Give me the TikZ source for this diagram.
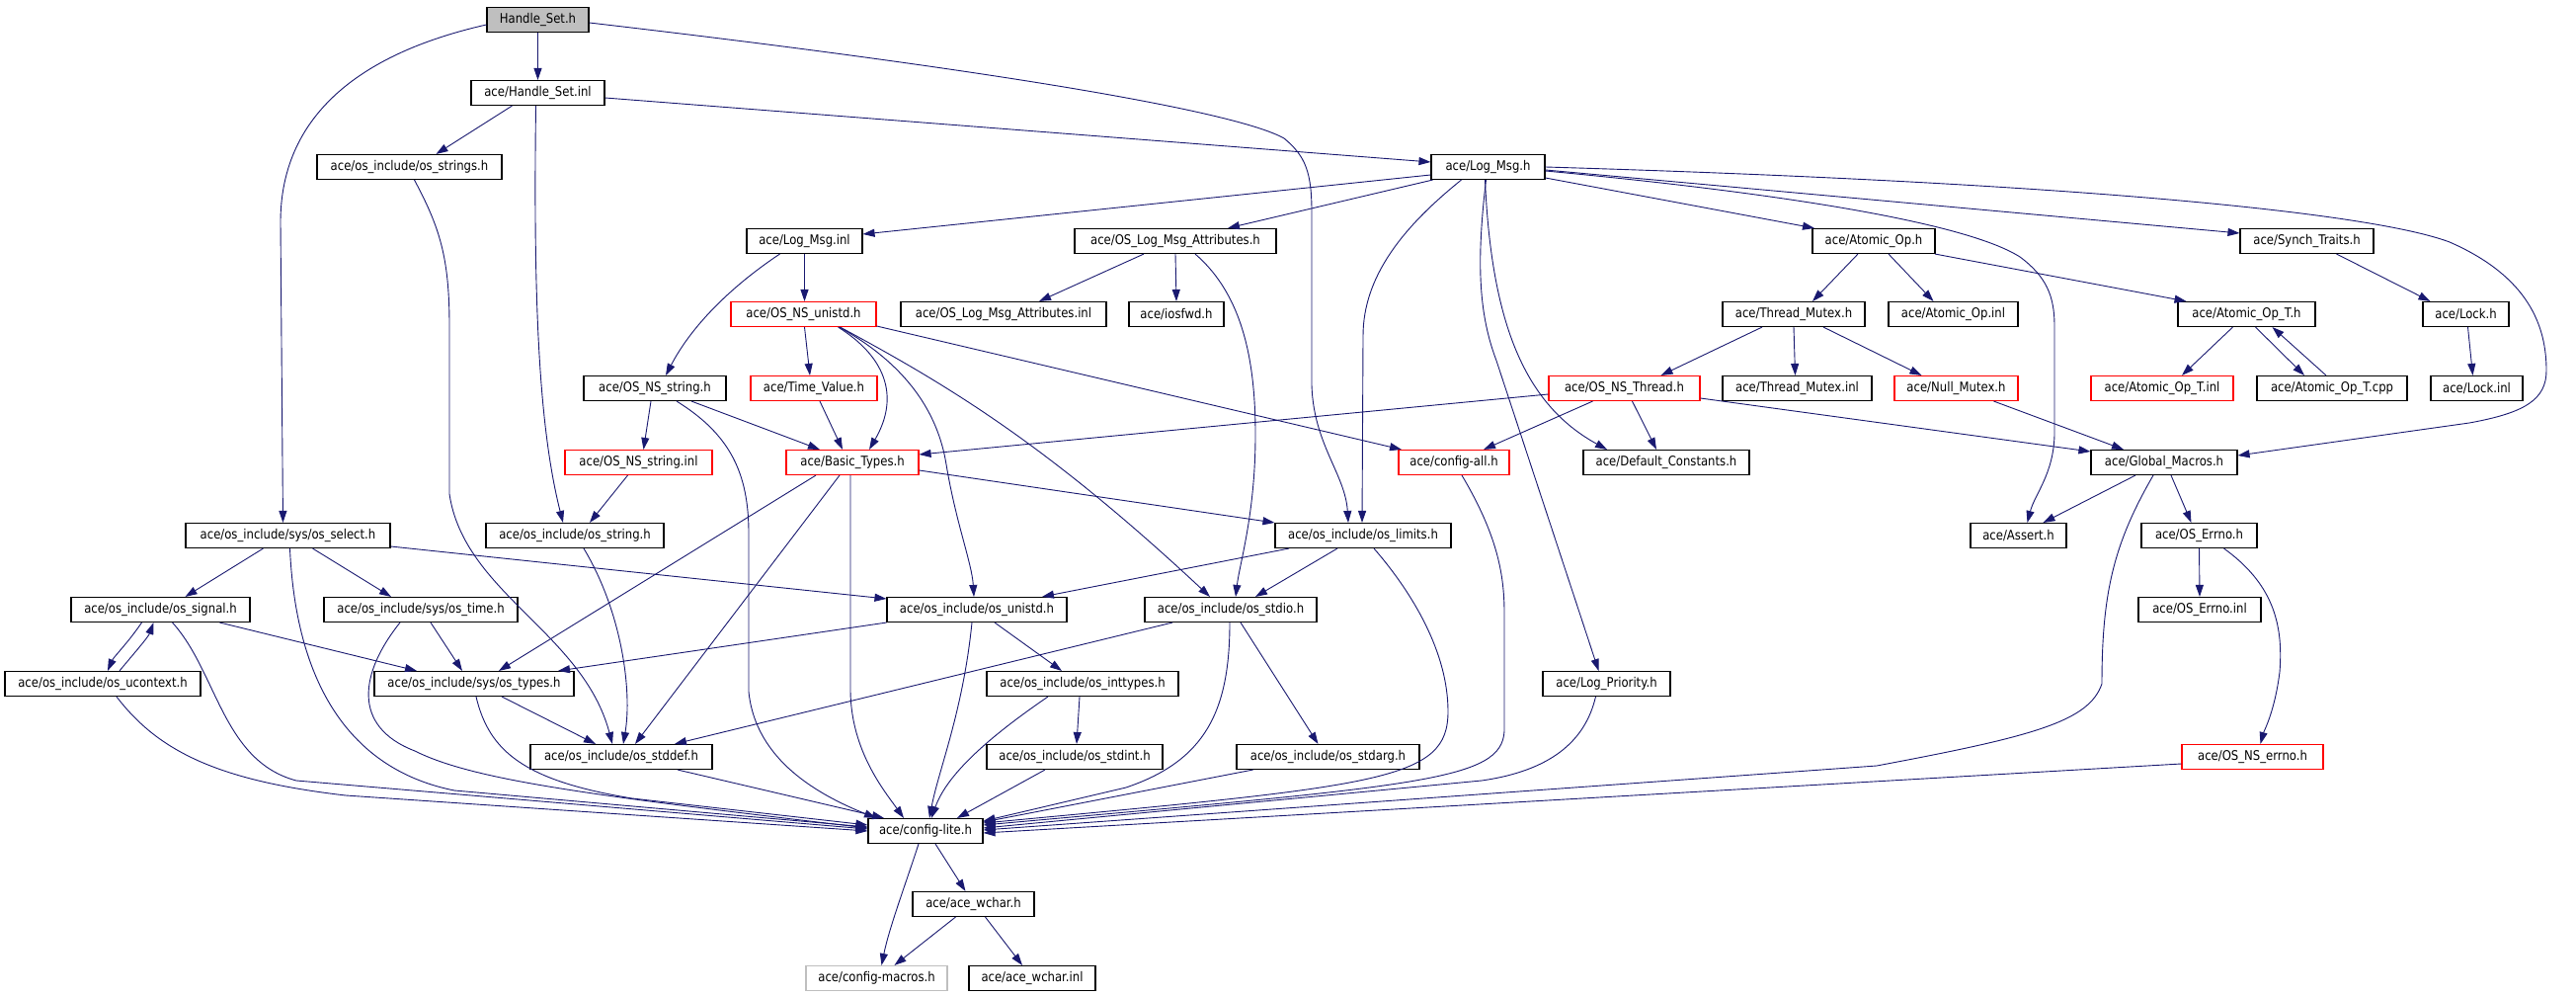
\documentclass[tikz,border=0pt]{standalone}
\usepackage{fontspec}
\setmainfont{DejaVu Sans}[FakeStretch=0.87]
\usetikzlibrary{arrows.meta}
\definecolor{edgecol}{HTML}{191970}
\definecolor{grayfill}{HTML}{BFBFBF}
\definecolor{boxred}{HTML}{FF0000}
\begin{document}
\begin{tikzpicture}[x=1pt,y=-1pt,
  box/.style={draw=black,line width=1.1pt,rectangle,inner sep=0pt,minimum height=25pt,fill=white,font=\fontsize{13.4}{15}\selectfont},
  rbox/.style={box,draw=boxred},
  e/.style={draw=edgecol,line width=0.9pt,-{Triangle[length=12pt,width=8pt]}}]
\useasboundingbox (0,0) rectangle (2608,1008);
\fill[white] (0,0) rectangle (2608,1008);
% nodes
\node[box,minimum width=103pt,fill=grayfill] (hs) at (544.5,20) {Handle\_Set.h};
\node[box,minimum width=135pt] (hsinl) at (544.5,94) {ace/Handle\_Set.inl};
\node[box,minimum width=187pt] (strings) at (414.5,169) {ace/os\_include/os\_strings.h};
\node[box,minimum width=115pt] (logmsg) at (1506.5,169) {ace/Log\_Msg.h};
\node[box,minimum width=117pt] (logmsginl) at (814.5,244) {ace/Log\_Msg.inl};
\node[box,minimum width=204pt] (olma) at (1190,244) {ace/OS\_Log\_Msg\_Attributes.h};
\node[box,minimum width=124pt] (atomicop) at (1897,244) {ace/Atomic\_Op.h};
\node[box,minimum width=135pt] (synch) at (2335.5,244) {ace/Synch\_Traits.h};
\node[rbox,minimum width=147pt] (nsunistd) at (813.5,318) {ace/OS\_NS\_unistd.h};
\node[box,minimum width=208pt] (olmainl) at (1016,318) {ace/OS\_Log\_Msg\_Attributes.inl};
\node[box,minimum width=96pt] (iosfwd) at (1191,318) {ace/iosfwd.h};
\node[box,minimum width=144pt] (tmutex) at (1816,318) {ace/Thread\_Mutex.h};
\node[box,minimum width=131pt] (atomicopinl) at (1977.5,318) {ace/Atomic\_Op.inl};
\node[box,minimum width=139pt] (atomicopt) at (2274.5,318) {ace/Atomic\_Op\_T.h};
\node[box,minimum width=87pt] (lock) at (2496.5,318) {ace/Lock.h};
\node[box,minimum width=144pt] (nsstring) at (663,393) {ace/OS\_NS\_string.h};
\node[rbox,minimum width=128pt] (timevalue) at (824,393) {ace/Time\_Value.h};
\node[rbox,minimum width=153pt] (nsthread) at (1644.5,393) {ace/OS\_NS\_Thread.h};
\node[box,minimum width=151pt] (tmutexinl) at (1819.5,393) {ace/Thread\_Mutex.inl};
\node[rbox,minimum width=125pt] (nullmutex) at (1980.5,393) {ace/Null\_Mutex.h};
\node[rbox,minimum width=144pt] (atomicoptinl) at (2189,393) {ace/Atomic\_Op\_T.inl};
\node[box,minimum width=152pt] (atomicoptcpp) at (2361,393) {ace/Atomic\_Op\_T.cpp};
\node[box,minimum width=93pt] (lockinl) at (2507.5,393) {ace/Lock.inl};
\node[rbox,minimum width=149pt] (nsstringinl) at (646.5,468) {ace/OS\_NS\_string.inl};
\node[rbox,minimum width=134pt] (basic) at (863,468) {ace/Basic\_Types.h};
\node[rbox,minimum width=112pt] (configall) at (1472,468) {ace/config-all.h};
\node[box,minimum width=168pt] (defconst) at (1687,468) {ace/Default\_Constants.h};
\node[box,minimum width=148pt] (globalm) at (2191,468) {ace/Global\_Macros.h};
\node[box,minimum width=207pt] (select) at (291.5,542) {ace/os\_include/sys/os\_select.h};
\node[box,minimum width=180pt] (string) at (582,542) {ace/os\_include/os\_string.h};
\node[box,minimum width=178pt] (limits) at (1380,542) {ace/os\_include/os\_limits.h};
\node[box,minimum width=97pt] (assert) at (2043.5,542) {ace/Assert.h};
\node[box,minimum width=117pt] (errno) at (2226.5,542) {ace/OS\_Errno.h};
\node[box,minimum width=181pt] (signal) at (162.5,617) {ace/os\_include/os\_signal.h};
\node[box,minimum width=196pt] (time) at (426,617) {ace/os\_include/sys/os\_time.h};
\node[box,minimum width=182pt] (unistd) at (989,617) {ace/os\_include/os\_unistd.h};
\node[box,minimum width=174pt] (stdio) at (1246,617) {ace/os\_include/os\_stdio.h};
\node[box,minimum width=124pt] (errnoinl) at (2227,617) {ace/OS\_Errno.inl};
\node[box,minimum width=198pt] (ucontext) at (104,692) {ace/os\_include/os\_ucontext.h};
\node[box,minimum width=202pt] (types) at (480,692) {ace/os\_include/sys/os\_types.h};
\node[box,minimum width=194pt] (inttypes) at (1096,692) {ace/os\_include/os\_inttypes.h};
\node[box,minimum width=129pt] (logprio) at (1626.5,692) {ace/Log\_Priority.h};
\node[box,minimum width=184pt] (stddef) at (629,766) {ace/os\_include/os\_stddef.h};
\node[box,minimum width=178pt] (stdint) at (1088,766) {ace/os\_include/os\_stdint.h};
\node[box,minimum width=185pt] (stdarg) at (1344.5,766) {ace/os\_include/os\_stdarg.h};
\node[rbox,minimum width=143pt] (nserrno) at (2280.5,766) {ace/OS\_NS\_errno.h};
\node[box,minimum width=116pt] (configlite) at (937,841) {ace/config-lite.h};
\node[box,minimum width=123pt] (wchar) at (985.5,915) {ace/ace\_wchar.h};
\node[box,minimum width=143pt,draw=grayfill] (macros) at (887.5,990) {ace/config-macros.h};
\node[box,minimum width=128pt] (wcharinl) at (1045,990) {ace/ace\_wchar.inl};
% edges
\draw[e] (hs.south) -- (hsinl.north);
\draw[e] ([yshift=-5pt]hs.west) .. controls (360,55) and (284,120) .. (284,225) -- ([xshift=-5pt]select.north);
\draw[e] ([yshift=-3pt]hs.east) .. controls (1000,70) and (1250,112) .. (1300,140) .. controls (1322,158) and (1328,175) .. (1328,215) -- (1328,390) .. controls (1330,450) and (1362,480) .. ([xshift=-15pt]limits.north);
\draw[e] ([xshift=-26pt]hsinl.south) -- ([xshift=27pt]strings.north);
\draw[e] ([yshift=-5pt]hsinl.east) -- ([yshift=5pt]logmsg.west);
\draw[e] ([xshift=-2pt]hsinl.south) .. controls (540,300) and (545,430) .. ([xshift=-12pt]string.north);
\draw[e] ([xshift=5pt]strings.south) .. controls (445,230) and (455,260) .. (455,330) -- (455,500) .. controls (470,600) and (590,640) .. ([xshift=-9pt]stddef.north);
\draw[e] ([yshift=-8pt]logmsg.west) -- ([yshift=7pt]logmsginl.east);
\draw[e] ([xshift=-56pt]logmsg.south) -- ([xshift=53pt]olma.north);
\draw[e] ([yshift=-11pt]logmsg.east) -- ([xshift=-60pt]atomicop.north);
\draw[e] ([yshift=-3pt]logmsg.east) -- ([yshift=8pt]synch.west);
\draw[e] ([yshift=-4pt]logmsg.east) .. controls (1800,195) and (1990,225) .. (2045,260) .. controls (2072,280) and (2080,300) .. (2080,330) -- (2080,440) .. controls (2079,480) and (2060,500) .. ([xshift=9pt]assert.north);
\draw[e] (logmsg.east) .. controls (2100,185) and (2400,215) .. (2480,245) .. controls (2560,280) and (2578,330) .. (2578,375) .. controls (2578,405) and (2555,418) .. (2500,428) -- ([yshift=7pt]globalm.east);
\draw[e] ([xshift=-27pt]logmsg.south) .. controls (1420,230) and (1380,280) .. (1380,340) -- ([xshift=-1pt]limits.north);
\draw[e] ([xshift=-3pt]logmsg.south) .. controls (1510,330) and (1545,410) .. ([xshift=-60pt]defconst.north);
\draw[e] ([xshift=-2pt]logmsg.south) .. controls (1494,270) and (1498,320) .. (1515,365) -- ([xshift=-8pt]logprio.north);
\draw[e] (logmsginl.south) -- ([xshift=1pt]nsunistd.north);
\draw[e] ([xshift=-25pt]logmsginl.south) .. controls (740,290) and (700,330) .. ([xshift=11pt]nsstring.north);
\draw[e] ([xshift=-32pt]olma.south) -- ([xshift=36pt]olmainl.north);
\draw[e] (olma.south) -- (iosfwd.north);
\draw[e] ([xshift=20pt]olma.south) .. controls (1260,300) and (1271,370) .. (1271,440) .. controls (1271,520) and (1255,570) .. ([xshift=5pt]stdio.north);
\draw[e] ([xshift=1pt]nsunistd.south) -- ([xshift=-4pt]timevalue.north);
\draw[e] ([xshift=35pt]nsunistd.south) .. controls (895,360) and (912,400) .. ([xshift=17pt]basic.north);
\draw[e] ([xshift=36pt]nsunistd.south) .. controls (920,370) and (950,420) .. (958,470) .. controls (968,530) and (984,570) .. ([xshift=-3pt]unistd.north);
\draw[e] ([xshift=37pt]nsunistd.south) .. controls (960,390) and (1060,450) .. ([xshift=-21pt]stdio.north);
\draw[e] ([yshift=-12pt]nsunistd.east) -- ([xshift=-53pt]configall.north);
\draw[e] ([xshift=-4pt]nsstring.south) -- ([xshift=5pt]nsstringinl.north);
\draw[e] ([xshift=37pt]nsstring.south) -- ([xshift=-33pt]basic.north);
\draw[e] ([xshift=22pt]nsstring.south) .. controls (740,440) and (758,480) .. (758,540) -- (758,700) .. controls (765,770) and (830,805) .. ([xshift=-50pt]configlite.north);
\draw[e] ([xshift=-11pt]nsstringinl.south) -- ([xshift=15pt]string.north);
\draw[e] ([xshift=6pt]timevalue.south) -- ([xshift=-10pt]basic.north);
\draw[e] ([yshift=-8pt]basic.east) -- ([yshift=13pt]limits.west);
\draw[e] ([xshift=-37pt]basic.south) -- ([xshift=25pt]types.north);
\draw[e] ([xshift=-13pt]basic.south) -- ([xshift=14pt]stddef.north);
\draw[e] ([xshift=-2pt]basic.south) -- (861,700) .. controls (862,760) and (895,800) .. ([xshift=-22pt]configlite.north);
\draw[e] ([xshift=8pt]configall.south) .. controls (1515,540) and (1523,580) .. (1523,620) -- (1523,740) .. controls (1520,790) and (1440,795) .. ([yshift=6pt]configlite.east);
\draw[e] ([xshift=-75pt]limits.south) -- ([xshift=66pt]unistd.north);
\draw[e] ([xshift=-26pt]limits.south) -- ([xshift=25pt]stdio.north);
\draw[e] ([xshift=11pt]limits.south) .. controls (1430,600) and (1466,660) .. (1466,720) .. controls (1466,790) and (1400,795) .. ([yshift=8pt]configlite.east);
\draw[e] ([xshift=-25pt]select.south) -- ([xshift=25pt]signal.north);
\draw[e] ([xshift=25pt]select.south) -- ([xshift=-30pt]time.north);
\draw[e] ([yshift=-11pt]select.east) -- ([yshift=11pt]unistd.west);
\draw[e] ([xshift=2pt]select.south) .. controls (300,700) and (360,780) .. (460,800) -- ([yshift=4pt]configlite.west);
\draw[e] ([xshift=-19pt]signal.south) .. controls (130,650) and (115,665) .. ([xshift=5pt]ucontext.north);
\draw[e] ([xshift=17pt]ucontext.north) .. controls (135,662) and (150,645) .. ([xshift=-7pt]signal.south);
\draw[e] ([xshift=60pt]signal.south) -- ([xshift=-58pt]types.north);
\draw[e] ([xshift=12pt]signal.south) .. controls (220,680) and (225,770) .. (300,790) -- ([yshift=2pt]configlite.west);
\draw[e] ([xshift=14pt]ucontext.south) .. controls (160,760) and (220,790) .. (350,805) -- (configlite.west);
\draw[e] ([xshift=10pt]time.south) -- ([xshift=-12pt]types.north);
\draw[e] ([xshift=-21pt]time.south) .. controls (365,680) and (355,735) .. (420,760) .. controls (480,790) and (600,805) .. ([yshift=3pt]configlite.west);
\draw[e] ([xshift=28pt]types.south) -- ([xshift=-26pt]stddef.north);
\draw[e] ([xshift=2pt]types.south) .. controls (495,760) and (530,790) .. (640,808) -- ([yshift=6pt]configlite.west);
\draw[e] ([xshift=9pt]string.south) .. controls (630,620) and (640,700) .. ([xshift=2pt]stddef.north);
\draw[e] ([xshift=57pt]stddef.south) -- ([xshift=-42pt]configlite.north);
\draw[e] (unistd.south west) -- ([xshift=85pt]types.north);
\draw[e] ([xshift=-5pt]unistd.south) .. controls (975,720) and (950,780) .. ([xshift=4pt]configlite.north);
\draw[e] ([xshift=18pt]unistd.south) -- ([xshift=-21pt]inttypes.north);
\draw[e] ([xshift=-3pt]inttypes.south) -- ([xshift=2pt]stdint.north);
\draw[e] ([xshift=-35pt]inttypes.south) .. controls (1010,740) and (960,780) .. ([xshift=6pt]configlite.north);
\draw[e] ([xshift=-30pt]stdint.south) -- ([xshift=32pt]configlite.north);
\draw[e] ([xshift=-59pt]stdio.south) -- ([xshift=54pt]stddef.north);
\draw[e] ([xshift=-1pt]stdio.south) .. controls (1245,720) and (1220,770) .. (1140,797) -- ([yshift=10pt]configlite.east);
\draw[e] ([xshift=10pt]stdio.south) -- ([xshift=-10pt]stdarg.north);
\draw[e] ([xshift=-76pt]stdarg.south) -- ([yshift=9pt]configlite.east);
\draw[e] ([xshift=-11pt]logprio.south) .. controls (1605,750) and (1570,780) .. (1500,790) -- ([yshift=3pt]configlite.east);
\draw[e] ([xshift=-11pt]globalm.south) .. controls (2140,550) and (2128,600) .. (2128,692) .. controls (2115,730) and (2060,745) .. (1900,775) -- ([yshift=1pt]configlite.east);
\draw[e] ([yshift=-7pt]nserrno.west) -- ([yshift=-2pt]configlite.east);
\draw[e] (errno.south) -- (errnoinl.north);
\draw[e] ([xshift=25pt]errno.south) .. controls (2300,590) and (2312,630) .. (2308,680) .. controls (2303,720) and (2292,740) .. ([xshift=8pt]nserrno.north);
\draw[e] ([xshift=-29pt]globalm.south) -- ([xshift=25pt]assert.north);
\draw[e] ([xshift=7pt]globalm.south) -- ([xshift=-8pt]errno.north);
\draw[e] ([xshift=38pt]nullmutex.south) -- ([xshift=-41pt]globalm.north);
\draw[e] ([yshift=-10pt]nsthread.east) -- ([yshift=11pt]globalm.west);
\draw[e] ([yshift=-6pt]nsthread.west) -- ([yshift=8pt]basic.east);
\draw[e] ([xshift=-32pt]nsthread.south) -- ([xshift=30pt]configall.north);
\draw[e] ([xshift=8pt]nsthread.south) -- ([xshift=-10pt]defconst.north);
\draw[e] ([xshift=-32pt]tmutex.south) -- ([xshift=37pt]nsthread.north);
\draw[e] (tmutex.south) -- ([xshift=-2pt]tmutexinl.north);
\draw[e] ([xshift=30pt]tmutex.south) -- ([xshift=-35pt]nullmutex.north);
\draw[e] ([xshift=-16pt]atomicop.south) -- ([xshift=19pt]tmutex.north);
\draw[e] ([xshift=15pt]atomicop.south) -- ([xshift=-20pt]atomicopinl.north);
\draw[e] ([xshift=62pt]atomicop.south) -- ([xshift=-61pt]atomicopt.north);
\draw[e] ([xshift=-14pt]atomicopt.south) -- ([xshift=20pt]atomicoptinl.north);
\draw[e] ([xshift=9pt]atomicopt.south) -- ([xshift=-28pt]atomicoptcpp.north);
\draw[e] ([xshift=-6pt]atomicoptcpp.north) -- ([xshift=26pt]atomicopt.south);
\draw[e] ([xshift=30pt]synch.south) -- ([xshift=-36pt]lock.north);
\draw[e] ([xshift=2pt]lock.south) -- ([xshift=-4pt]lockinl.north);
\draw[e] ([xshift=10pt]configlite.south) -- ([xshift=-8pt]wchar.north);
\draw[e] ([xshift=-7pt]configlite.south) .. controls (915,900) and (900,940) .. ([xshift=5pt]macros.north);
\draw[e] ([xshift=-18pt]wchar.south) -- ([xshift=18pt]macros.north);
\draw[e] ([xshift=12pt]wchar.south) -- ([xshift=-10pt]wcharinl.north);
\end{tikzpicture}
\end{document}
